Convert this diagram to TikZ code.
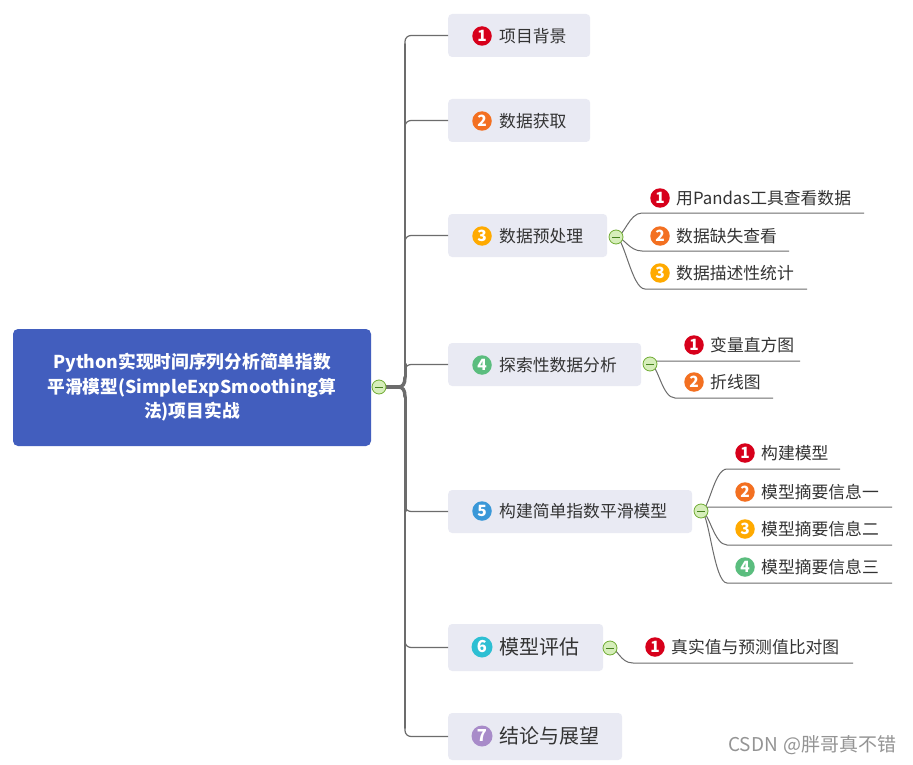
\documentclass[tikz,border=0pt]{standalone}
\usepackage{fontspec}
\setmainfont{Noto Sans CJK SC}
\definecolor{rootblue}{RGB}{66,94,190}
\definecolor{boxgray}{RGB}{233,234,243}
\definecolor{linegray}{RGB}{108,108,108}
\definecolor{c1}{RGB}{215,0,27}
\definecolor{c2}{RGB}{243,112,33}
\definecolor{c3}{RGB}{255,170,0}
\definecolor{c4}{RGB}{91,189,126}
\definecolor{c5}{RGB}{58,152,216}
\definecolor{c6}{RGB}{45,191,211}
\definecolor{c7}{RGB}{168,139,201}
\definecolor{txt}{RGB}{51,51,51}
\definecolor{colfill}{RGB}{214,238,186}
\definecolor{coldraw}{RGB}{112,172,52}
\definecolor{colminus}{RGB}{70,130,30}
\begin{document}
\begin{tikzpicture}[x=1pt,y=-1pt,
  rootbox/.style={fill=rootblue, rounded corners=5pt, inner sep=0pt,
    minimum width=358pt, minimum height=117pt, align=center, text=white,
    font=\fontsize{17.7}{24.5}\selectfont\bfseries},
  lonebox/.style={fill=boxgray, rounded corners=4pt, anchor=west, inner sep=0pt, minimum height=43pt},
  badge/.style={circle, inner sep=0pt, minimum size=19.5pt, text=white,
    font=\fontsize{15.5}{15.5}\selectfont\bfseries},
  bigbadge/.style={badge, minimum size=21pt, font=\fontsize{16.5}{16.5}\selectfont\bfseries},
  btxt/.style={anchor=west, inner sep=0pt, text=txt, font=\fontsize{16.8}{20}\selectfont},
  bigtxt/.style={btxt, font=\fontsize{20}{24}\selectfont},
  stxt/.style={anchor=west, inner sep=0pt, text=txt, font=\fontsize{16.8}{20}\selectfont},
  br/.style={draw=linegray, line width=1.2pt},
  trunk/.style={draw=linegray, line cap=round},
  collapse/.style={circle, draw=coldraw, fill=colfill, minimum size=14pt, inner sep=0pt, line width=0.8pt,
    path picture={\draw[line width=1pt, colminus] ([xshift=-3.8pt]path picture bounding box.center) -- ([xshift=3.8pt]path picture bounding box.center);}}
]
\useasboundingbox (0,0) rectangle (913,765);
\fill[white] (0,0) rectangle (913,765);

% root
\node[rootbox] (root) at (192,387.5) {Python实现时间序列分析简单指数\\平滑模型(SimpleExpSmoothing算\\法)项目实战};

% level-1 boxes
\node[lonebox, minimum width=142pt] (n1) at (448,35.5) {};
\node[lonebox, minimum width=142pt] (n2) at (448,120.5) {};
\node[lonebox, minimum width=159pt] (n3) at (448,235.5) {};
\node[lonebox, minimum width=193pt] (n4) at (448,364.5) {};
\node[lonebox, minimum width=244pt] (n5) at (448,511.5) {};
\node[lonebox, minimum width=155pt, minimum height=47pt] (n6) at (448,647.5) {};
\node[lonebox, minimum width=174pt, minimum height=47pt] (n7) at (448,736.5) {};

\node[badge, fill=c1] (b1) at (482,36) {1};
\node[badge, fill=c2] (b2) at (482,121) {2};
\node[badge, fill=c3] (b3) at (482,236) {3};
\node[badge, fill=c4] (b4) at (482,365) {4};
\node[badge, fill=c5] (b5) at (482,511) {5};
\node[bigbadge, fill=c6] (b6) at (482,647) {6};
\node[bigbadge, fill=c7] (b7) at (482,736) {7};
\node[btxt] (t1) at (499,36) {项目背景};
\node[btxt] (t2) at (499,121) {数据获取};
\node[btxt] (t3) at (499,236) {数据预处理};
\node[btxt] (t4) at (499,365) {探索性数据分析};
\node[btxt] (t5) at (499,511) {构建简单指数平滑模型};
\node[bigtxt] (t6) at (499,647) {模型评估};
\node[bigtxt] (t7) at (499,736) {结论与展望};

% trunk
\coordinate (kr) at (379,387);
\coordinate (J) at (398,387);
\coordinate (tu) at (405,377);
\coordinate (td) at (405,397);
\foreach \n in {n1,n2,n3,n4} \draw[br, rounded corners=6pt] (tu) |- (\n.west);
\foreach \n in {n5,n6,n7} \draw[br, rounded corners=6pt] (td) |- (\n.west);
\draw[trunk, line width=4pt] (kr) -- (J);
\draw[trunk, line width=3.4pt] (J) .. controls (403,387) and (405,384) .. (tu);
\draw[trunk, line width=3.4pt] (J) .. controls (403,387) and (405,390) .. (td);
\draw[trunk, line width=3pt] (tu) -- (405,364);
\draw[trunk, line width=2.5pt] (405,364) -- (405,236);
\draw[trunk, line width=2pt] (405,236) -- (405,121);
\draw[trunk, line width=1.5pt] (405,121) -- (405,44);
\draw[trunk, line width=3pt] (td) -- (405,511);
\draw[trunk, line width=2.3pt] (405,511) -- (405,647);
\draw[trunk, line width=1.6pt] (405,647) -- (405,728);
\node[collapse] (krc) at (kr) {};

% sub-topic collapse points
\coordinate (k3) at (616,237);
\coordinate (k4) at (650,364);
\coordinate (k5) at (701,511);
\coordinate (k6) at (610,648);

% underline coordinates
\coordinate (u31) at (642,213); \coordinate (e31) at (864,213);
\coordinate (u32) at (642,251); \coordinate (e32) at (789,251);
\coordinate (u33) at (645,289); \coordinate (e33) at (807,289);
\coordinate (u41) at (660,361); \coordinate (e41) at (800,361);
\coordinate (u42) at (675,398); \coordinate (e42) at (773,398);
\coordinate (u51) at (727,469); \coordinate (e51) at (840,469);
\coordinate (u52) at (712,507); \coordinate (e52) at (892,507);
\coordinate (u53) at (727,545); \coordinate (e53) at (892,545);
\coordinate (u54) at (727,583); \coordinate (e54) at (892,583);
\coordinate (u61) at (633,663); \coordinate (e61) at (853,663);

\foreach \k/\s in {k3/31,k3/32,k3/33,k4/41,k4/42,k5/51,k5/52,k5/53,k5/54,k6/61}
  \draw[br, line width=1pt] (\k) .. controls +(8,0) and +(-13,0) .. (u\s) -- (e\s);

\node[collapse] (k3c) at (k3) {};
\node[collapse] (k4c) at (k4) {};
\node[collapse] (k5c) at (k5) {};
\node[collapse] (k6c) at (k6) {};

% sub-topic labels
\node[badge, fill=c1] (s31b) at (660,198) {1};
\node[stxt] (s31) at (676,198) {用Pandas工具查看数据};
\node[badge, fill=c2] (s32b) at (660,236) {2};
\node[stxt] (s32) at (676,236) {数据缺失查看};
\node[badge, fill=c3] (s33b) at (660,273) {3};
\node[stxt] (s33) at (676,273) {数据描述性统计};
\node[badge, fill=c1] (s41b) at (694,345) {1};
\node[stxt] (s41) at (710,345) {变量直方图};
\node[badge, fill=c2] (s42b) at (694,382) {2};
\node[stxt] (s42) at (710,382) {折线图};
\node[badge, fill=c1] (s51b) at (745,453) {1};
\node[stxt] (s51) at (761,453) {构建模型};
\node[badge, fill=c2] (s52b) at (745,492) {2};
\node[stxt] (s52) at (761,492) {模型摘要信息一};
\node[badge, fill=c3] (s53b) at (745,529) {3};
\node[stxt] (s53) at (761,529) {模型摘要信息二};
\node[badge, fill=c4] (s54b) at (745,567) {4};
\node[stxt] (s54) at (761,567) {模型摘要信息三};
\node[badge, fill=c1] (s61b) at (655,647) {1};
\node[stxt] (s61) at (671,647) {真实值与预测值比对图};

% watermark
\node[anchor=east, inner sep=0pt, text=black!42, font=\fontsize{19}{19}\selectfont] (wm) at (897,745) {CSDN\hspace{6pt}@胖哥真不错};
\end{tikzpicture}
\end{document}
